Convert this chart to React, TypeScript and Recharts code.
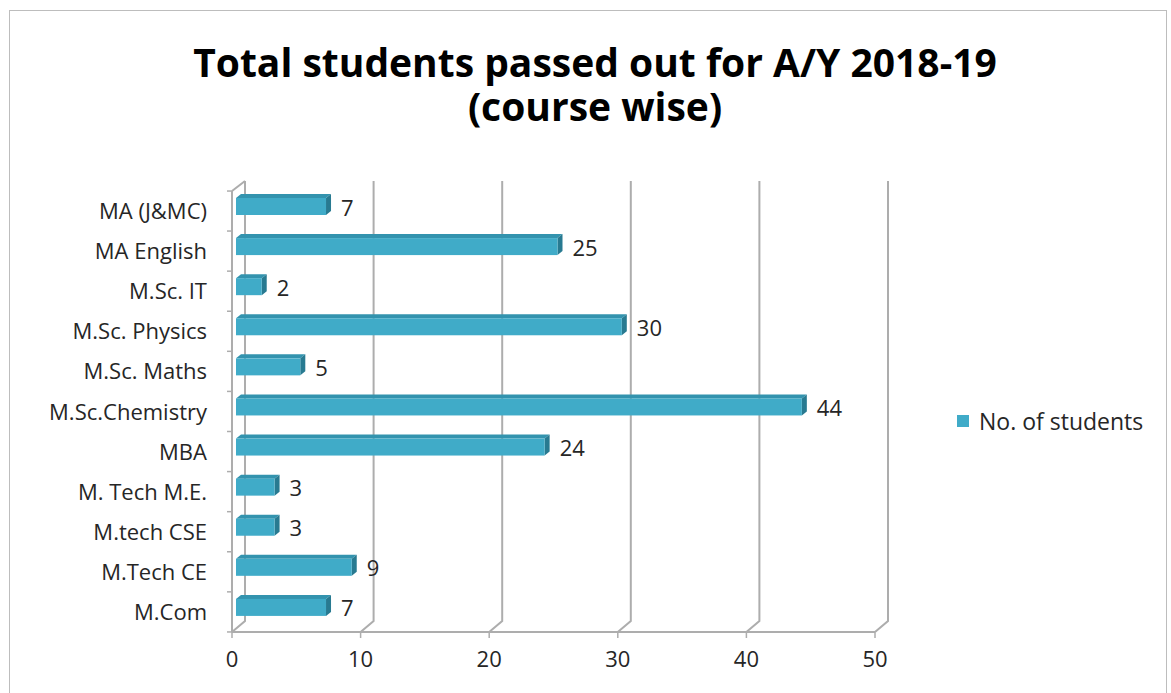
import React from 'react'
import { BarChart, Bar, XAxis, YAxis, CartesianGrid, LabelList } from 'recharts'

const courses = [
  'MA (J&MC)',
  'MA English',
  'M.Sc. IT',
  'M.Sc. Physics',
  'M.Sc. Maths',
  'M.Sc.Chemistry',
  'MBA',
  'M. Tech M.E.',
  'M.tech CSE',
  'M.Tech CE',
  'M.Com',
]
const students = [7, 25, 2, 30, 5, 44, 24, 3, 3, 9, 7]
const xTicks = [0, 10, 20, 30, 40, 50]
const titleLines = ['Total students passed out for A/Y 2018-19', '(course wise)']

const data = courses.map((course, i) => ({ course, students: students[i] }))

const FONT = '"Open Sans", Lato, sans-serif'
const GRID = '#ADADAD'
const DX = 13
const DY = 11

// back-wall grid line with the little floor diagonal, excel 3d style
const GridLine3D = (props: any) => {
  const { x1, y1, y2 } = props
  const top = Math.min(y1, y2)
  const bottom = Math.max(y1, y2)
  let d = `M${x1},${bottom} L${x1 + DX},${bottom - DY} L${x1 + DX},${top - DY + 1}`
  if (props.index === 0) d += ` M${x1},${top} L${x1 + DX},${top - DY + 1}`
  return <path key={props.key} d={d} stroke={GRID} strokeWidth={2} fill="none" />
}

const Bar3D = (props: any) => {
  const { x, y, width, height } = props
  if (width <= 0) return null
  const fx = x + 4
  const fy = y - 5
  const d = 5
  return (
    <g>
      <path
        d={`M${fx},${fy} L${fx + d},${fy - d + 1} L${fx + width + d},${fy - d + 1} L${fx + width},${fy} Z`}
        fill="#3393AE"
      />
      <path
        d={`M${fx + width},${fy} L${fx + width + d},${fy - d + 1} L${fx + width + d},${fy + height - d + 1} L${fx + width},${fy + height} Z`}
        fill="#287A91"
      />
      <rect x={fx} y={fy} width={width} height={height} fill="#40ABC8" />
    </g>
  )
}

const CourseTick = (props: any) => {
  const { x, y, payload } = props
  return (
    <g>
      <line x1={x + 20} x2={x + 25} y1={y + 20} y2={y + 20} stroke={GRID} strokeWidth={1.5} />
      {payload.index === 0 && (
        <line x1={x + 20} x2={x + 25} y1={y - 20} y2={y - 20} stroke={GRID} strokeWidth={1.5} />
      )}
      <text x={x} y={y} dy={8} textAnchor="end" fontSize={22} fontFamily={FONT} fill="#262626">
        {payload.value}
      </text>
    </g>
  )
}

const ValueLabel = (props: any) => {
  const { x, y, width, height, value } = props
  return (
    <text
      x={x + width + 19}
      y={y + height / 2 - 4}
      dy={8}
      fontSize={22}
      fontFamily={FONT}
      fill="#262626"
    >
      {value}
    </text>
  )
}

export default function App() {
  return (
    <div style={{ position: 'absolute', left: 0, top: 0, width: 1171, height: 693, background: '#fff' }}>
      <div
        style={{
          position: 'absolute',
          left: 9,
          top: 10,
          width: 1158,
          height: 700,
          border: '1.5px solid #BDBDBD',
          boxSizing: 'border-box',
        }}
      />
      {titleLines.map((line, i) => (
        <div
          key={line}
          style={{
            position: 'absolute',
            left: 0,
            top: 40 + i * 44,
            width: 1190,
            height: 44,
            textAlign: 'center',
            fontFamily: FONT,
            fontWeight: 700,
            fontSize: 39,
            lineHeight: '44px',
            color: '#000',
          }}
        >
          {line}
        </div>
      ))}
      <div style={{ position: 'absolute', left: 0, top: 0 }}>
        <BarChart
          width={1171}
          height={693}
          data={data}
          layout="vertical"
          margin={{ top: 191, right: 296, bottom: 31, left: 0 }}
          barSize={17}
        >
          <CartesianGrid horizontal={false} vertical={GridLine3D} />
          <XAxis
            type="number"
            domain={[0, 50]}
            ticks={xTicks}
            axisLine={{ stroke: GRID, strokeWidth: 2 }}
            tickLine={{ stroke: GRID, strokeWidth: 1.5 }}
            tickSize={6}
            tickMargin={13}
            tick={{ fontSize: 22, fontFamily: FONT, fill: '#262626' }}
            interval={0}
          />
          <YAxis
            type="category"
            dataKey="course"
            width={232}
            axisLine={{ stroke: GRID, strokeWidth: 2 }}
            tickLine={false}
            tickSize={0}
            tickMargin={25}
            tick={<CourseTick />}
            interval={0}
          />
          <Bar dataKey="students" shape={<Bar3D />} isAnimationActive={false}>
            <LabelList dataKey="students" content={<ValueLabel />} />
          </Bar>
        </BarChart>
      </div>
      <div
        style={{
          position: 'absolute',
          left: 957,
          top: 405,
          display: 'flex',
          alignItems: 'center',
          fontFamily: FONT,
          fontSize: 23,
          color: '#262626',
        }}
      >
        <span style={{ width: 12, height: 12, background: '#40ABC8', marginRight: 10, display: 'inline-block' }} />
        No. of students
      </div>
    </div>
  )
}
